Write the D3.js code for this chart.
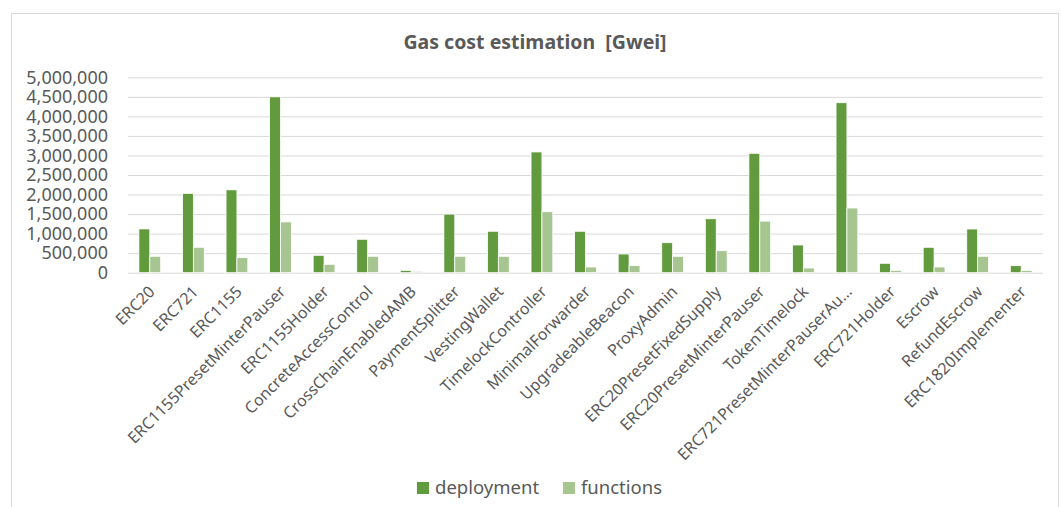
<!DOCTYPE html>
<html><head><meta charset="utf-8">
<script src="https://cdn.jsdelivr.net/npm/d3@7"></script>
<style>body{margin:0;background:#fff} svg{display:block}</style>
</head><body>
<svg id="c" width="1061" height="507"></svg>
<script>
const categories = ["ERC20","ERC721","ERC1155","ERC1155PresetMinterPauser","ERC1155Holder","ConcreteAccessControl","CrossChainEnabledAMB","PaymentSplitter","VestingWallet","TimelockController","MinimalForwarder","UpgradeableBeacon","ProxyAdmin","ERC20PresetFixedSupply","ERC20PresetMinterPauser","TokenTimelock","ERC721PresetMinterPauserAu…","ERC721Holder","Escrow","RefundEscrow","ERC1820Implementer"];
const deployment = [1120000,2030000,2120000,4500000,445000,855000,60000,1500000,1060000,3090000,1060000,478000,768000,1380000,3055000,709000,4350000,240000,650000,1118000,180000];
const functions = [420000,650000,384000,1300000,215000,420000,35000,420000,420000,1560000,146000,180000,420000,563000,1320000,120000,1655000,60000,146000,420000,60000];
const yTicks = [0,500000,1000000,1500000,2000000,2500000,3000000,3500000,4000000,4500000,5000000];
const seriesNames = ["deployment","functions"];
const seriesColors = ["#629b3e","#a6c591"];
const title = "Gas cost estimation  [Gwei]";

const svg = d3.select("#c");
const font = "'Noto Sans', 'Open Sans', sans-serif";
const textColor = "#595959";

// frame
svg.append("rect").attr("x",11.5).attr("y",13.5).attr("width",1047).attr("height",500)
  .attr("fill","#fff").attr("stroke","#d9d9d9").attr("stroke-width",1);

const plot = {l:128, r:1043, t:77.3, b:272.7};
const x0 = d3.scaleBand().domain(categories).range([plot.l, plot.r]).paddingInner(0.5).paddingOuter(0.25);
const x1 = d3.scaleBand().domain(seriesNames).range([0, x0.bandwidth()]);
const y = d3.scaleLinear().domain([0, 5000000]).range([plot.b, plot.t]);

// title
svg.append("text").attr("x",535).attr("y",49).attr("text-anchor","middle")
  .style("white-space","pre")
  .attr("font-family",font).attr("font-weight","bold").attr("font-size",19.5).attr("fill",textColor)
  .text(title);

// grid
const yAxis = d3.axisLeft(y).tickValues(yTicks).tickSize(-(plot.r-plot.l)).tickPadding(20)
  .tickFormat(d3.format(","));
const ga = svg.append("g").attr("transform",`translate(${plot.l},0)`).call(yAxis);
ga.select(".domain").remove();
ga.selectAll(".tick line").attr("stroke","#d9d9d9").attr("stroke-width",1);
ga.selectAll(".tick text").attr("font-family",font).attr("font-size",18).attr("fill",textColor).attr("x",-20);

// bars
const data = categories.map((c,i)=>({c, vals:[deployment[i], functions[i]]}));
const groups = svg.append("g").selectAll("g").data(data).join("g")
  .attr("transform", d=>`translate(${x0(d.c)},0)`);
groups.selectAll("rect").data(d=>d.vals.map((v,j)=>({v, s:seriesNames[j], j}))).join("rect")
  .attr("x", d=>x1(d.s)).attr("width", x1.bandwidth())
  .attr("y", d=>y(d.v)).attr("height", d=>y(0)-y(d.v))
  .attr("fill", d=>seriesColors[d.j]).attr("stroke","#fff").attr("stroke-width",0.8);

// x labels
const xAxis = d3.axisBottom(x0).tickSize(0).tickPadding(0);
const gx = svg.append("g").attr("transform",`translate(0,${plot.b})`).call(xAxis);
gx.select(".domain").remove();
gx.selectAll(".tick text").attr("font-family",font).attr("font-size",16).attr("fill",textColor)
  .attr("text-anchor","end").attr("y",0).attr("dy","0.35em")
  .attr("transform","translate(2,16) rotate(-45)");

// legend
const legend = svg.append("g");
const lx = [417, 563];
seriesNames.forEach((s,i)=>{
  legend.append("rect").attr("x",lx[i]).attr("y",482).attr("width",12).attr("height",12).attr("fill",seriesColors[i]);
  legend.append("text").attr("x",lx[i]+18).attr("y",494).attr("font-family",font).attr("font-size",18.5)
    .attr("fill",textColor).text(s);
});
</script>
</body></html>
